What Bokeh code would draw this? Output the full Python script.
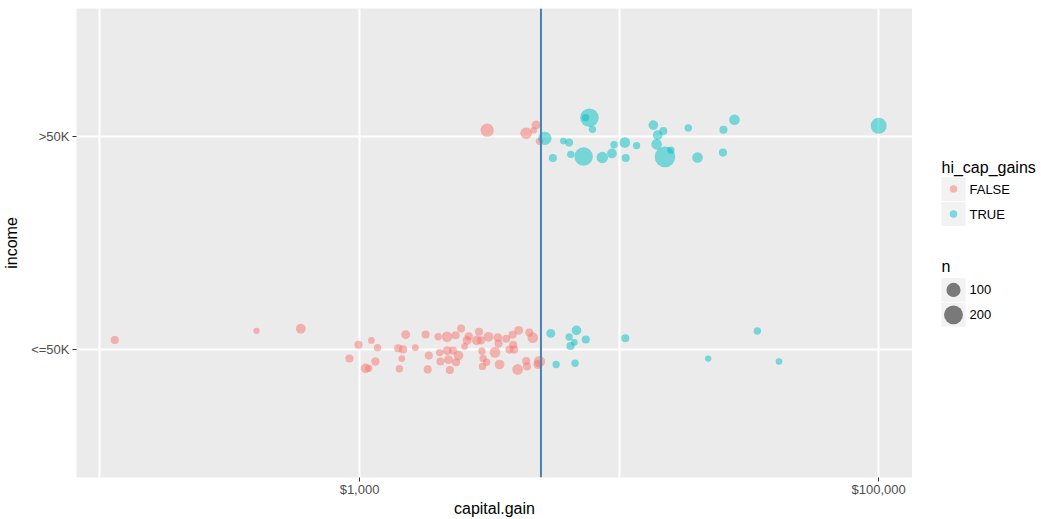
import math
from bokeh.plotting import figure
from bokeh.models import Range1d, FixedTicker, NumeralTickFormatter, Span, ColumnDataSource
from bokeh.layouts import row
from bokeh.embed import file_html
from bokeh.resources import INLINE
from bokeh.core.properties import value

# ---------------- data ----------------
income_levels = ["<=50K", ">50K"]
threshold = 5000

# income <= 50K group
low_gain = [114, 401, 594, 991, 1111, 1173, 914, 1055, 1086, 1151,
            1506, 1409, 1471, 1639, 1455, 1424, 1797, 1848, 1831, 2009,
            2174, 2346, 2463, 2036, 2176, 2290, 2050, 2202, 2354, 2407,
            2228, 2597, 2635, 2538, 2885, 2829, 2936, 3137, 2961, 2993,
            3087, 2977, 3325, 3411, 3432, 3464, 3674, 3887, 4101, 3908,
            3781, 3942, 4508, 4650, 4064, 4386, 4416, 4865, 4934,
            5455, 6418, 6849, 6723, 6497, 7443, 10566, 34095, 5721, 6767,
            22040, 41310]
low_jitter = [0.045, 0.088, 0.098, 0.023, 0.043, 0.009, -0.042, -0.088, -0.088, -0.056,
              0.070, 0.006, 0.001, 0.009, -0.042, -0.090, 0.071, -0.028, -0.093, 0.060,
              0.060, 0.067, 0.099, -0.014, -0.005, -0.005, -0.056, -0.047, -0.059, -0.028,
              -0.096, 0.043, 0.062, 0.015, 0.084, 0.043, 0.043, 0.060, -0.008, -0.042,
              -0.059, -0.079, -0.013, 0.056, 0.028, -0.070, 0.051, 0.070, 0.090, 0.023,
              0.000, 0.000, 0.080, 0.056, -0.093, -0.054, -0.079, -0.070, -0.056,
              0.076, 0.059, 0.090, 0.034, 0.017, 0.047, 0.053, 0.087, -0.070, -0.064,
              -0.042, -0.056]
low_n = [17, 1, 35, 17, 4, 10, 17, 35, 10, 20,
         26, 17, 17, 4, 4, 10, 17, 17, 17, 10,
         47, 17, 17, 10, 26, 17, 17, 26, 17, 35,
         17, 26, 17, 4, 17, 35, 17, 35, 10, 10,
         10, 10, 47, 26, 17, 35, 17, 17, 26, 17,
         17, 17, 17, 47, 47, 17, 17, 26, 55,
         26, 10, 35, 4, 17, 17, 17, 10, 10, 10,
         1, 4]

# income > 50K group
high_gain = [3103, 4386, 4787, 4687, 4934,
             5178, 7688, 7430, 7896, 6097, 6418, 5556, 6514, 7298, 8614,
             9386, 9562, 10520, 11678, 10605, 13550, 14800, 14084, 13950, 15024,
             15831, 18481, 20051, 25236, 25124, 27828, 99999]
high_jitter = [0.029, 0.015, 0.054, 0.029, -0.023,
               -0.009, 0.088, 0.088, 0.033, -0.022, -0.029, -0.101, -0.084, -0.094, -0.099,
               -0.080, -0.039, -0.029, -0.043, -0.101, 0.053, 0.025, 0.006, -0.037, -0.096,
               -0.064, 0.040, -0.099, 0.031, -0.076, 0.078, 0.050]
high_n = [86, 60, 26, 4, 10,
          86, 190, 10, 10, 4, 17, 17, 10, 190, 58,
          35, 10, 47, 10, 17, 35, 17, 35, 47, 240,
          10, 10, 47, 17, 17, 47, 135]

income = ["<=50K"] * len(low_gain) + [">50K"] * len(high_gain)
capital_gain = low_gain + high_gain
jitter = low_jitter + high_jitter
n = low_n + high_n

hi_cap_labels = ["FALSE", "TRUE"]
size_breaks = [100, 200]

# ---------------- styling ----------------
FONT = "Liberation Sans"
PALETTE = {"FALSE": "#F8766D", "TRUE": "#00BFC4"}
BG = "#EBEBEB"
W, H = 1041, 519
FRAME_L, FRAME_R, FRAME_T, FRAME_B = 76, 912, 8, 478


def size_px(count):
    return math.sqrt(40 + 1.6 * (count - 1))


hi_cap = ["TRUE" if g > threshold else "FALSE" for g in capital_gain]
y = [income_levels.index(c) + 1 + j for c, j in zip(income, jitter)]
src = ColumnDataSource(dict(
    x=capital_gain, y=y, size=[size_px(v) for v in n],
    color=[PALETTE[h] for h in hi_cap]))

p = figure(width=FRAME_R, height=H, x_axis_type="log",
           x_range=Range1d(81.2, 135000), y_range=Range1d(0.4, 2.6),
           output_backend="svg", toolbar_location=None, title=None,
           min_border_left=FRAME_L, min_border_right=0, min_border_top=FRAME_T,
           min_border_bottom=H - FRAME_B)
p.background_fill_color = BG
p.border_fill_color = "white"
p.outline_line_color = None

p.xaxis.ticker = FixedTicker(ticks=[1000, 100000])
p.xaxis.formatter = NumeralTickFormatter(format="$0,0")
p.yaxis.ticker = FixedTicker(ticks=[1, 2])
p.yaxis.major_label_overrides = {1: income_levels[0], 2: income_levels[1]}
p.xaxis.axis_label = "capital.gain"
p.yaxis.axis_label = "income"
for ax in (p.xaxis, p.yaxis):
    ax.axis_line_color = None
    ax.major_tick_line_color = "#333333"
    ax.major_tick_line_width = 1
    ax.major_tick_out = 4
    ax.major_tick_in = 0
    ax.minor_tick_line_color = None
    ax.major_label_text_font = FONT
    ax.major_label_text_font_size = "13px"
    ax.major_label_text_color = "#4D4D4D"
    ax.axis_label_text_font = FONT
    ax.axis_label_text_font_size = "16px"
    ax.axis_label_text_font_style = "normal"
    ax.axis_label_text_color = "black"
p.xaxis.major_label_standoff = 0
p.xaxis.axis_label_standoff = 0
p.yaxis.major_label_standoff = 3
p.yaxis.axis_label_standoff = 8

p.xgrid.ticker = FixedTicker(ticks=[100, 1000, 10000, 100000])
p.ygrid.ticker = FixedTicker(ticks=[1, 2])
for g in (p.xgrid, p.ygrid):
    g.grid_line_color = "white"
    g.grid_line_width = 2

p.scatter("x", "y", size="size", fill_color="color", fill_alpha=0.5,
          line_color=None, source=src)

p.add_layout(Span(location=threshold, dimension="height",
                  line_color="#4682B4", line_width=2))

# ---------------- legend panel (page pixel coordinates) ----------------
leg = figure(width=W - FRAME_R, height=H,
             x_range=Range1d(FRAME_R, W), y_range=Range1d(FRAME_B, FRAME_T),
             output_backend="svg", toolbar_location=None, title=None,
             x_axis_location=None, y_axis_location=None,
             min_border_left=0, min_border_right=0,
             min_border_top=FRAME_T, min_border_bottom=H - FRAME_B)
leg.grid.visible = False
leg.outline_line_color = None
leg.background_fill_color = "white"
leg.border_fill_color = "white"

key_x = 953
key_w = 24
label_x = key_x + key_w / 2 + 4
title_x = key_x - key_w / 2
colour_rows = [189 + 25 * i for i in range(len(hi_cap_labels))]
size_rows = [290 + 25 * i for i in range(len(size_breaks))]

leg.rect(x=key_x, y=colour_rows + size_rows, width=key_w, height=key_w,
         fill_color="#F2F2F2", line_color=None)
leg.scatter(x=key_x, y=colour_rows, size=7.5,
            fill_color=[PALETTE[k] for k in hi_cap_labels], fill_alpha=0.5,
            line_color=None)
leg.scatter(x=key_x, y=size_rows, size=[size_px(v) for v in size_breaks],
            fill_color="black", fill_alpha=0.5, line_color=None)
leg.text(x=label_x, y=colour_rows + size_rows,
         text=hi_cap_labels + [str(v) for v in size_breaks],
         text_baseline="middle", text_align="left", text_font=value(FONT),
         text_font_size="13px", text_color="black")
leg.text(x=title_x, y=[colour_rows[0] - 22, size_rows[0] - 23],
         text=["hi_cap_gains", "n"], text_baseline="alphabetic",
         text_align="left", text_font=value(FONT), text_font_size="16px",
         text_color="black")

layout = row(p, leg)
open("out.html", "w").write(file_html(layout, INLINE))
